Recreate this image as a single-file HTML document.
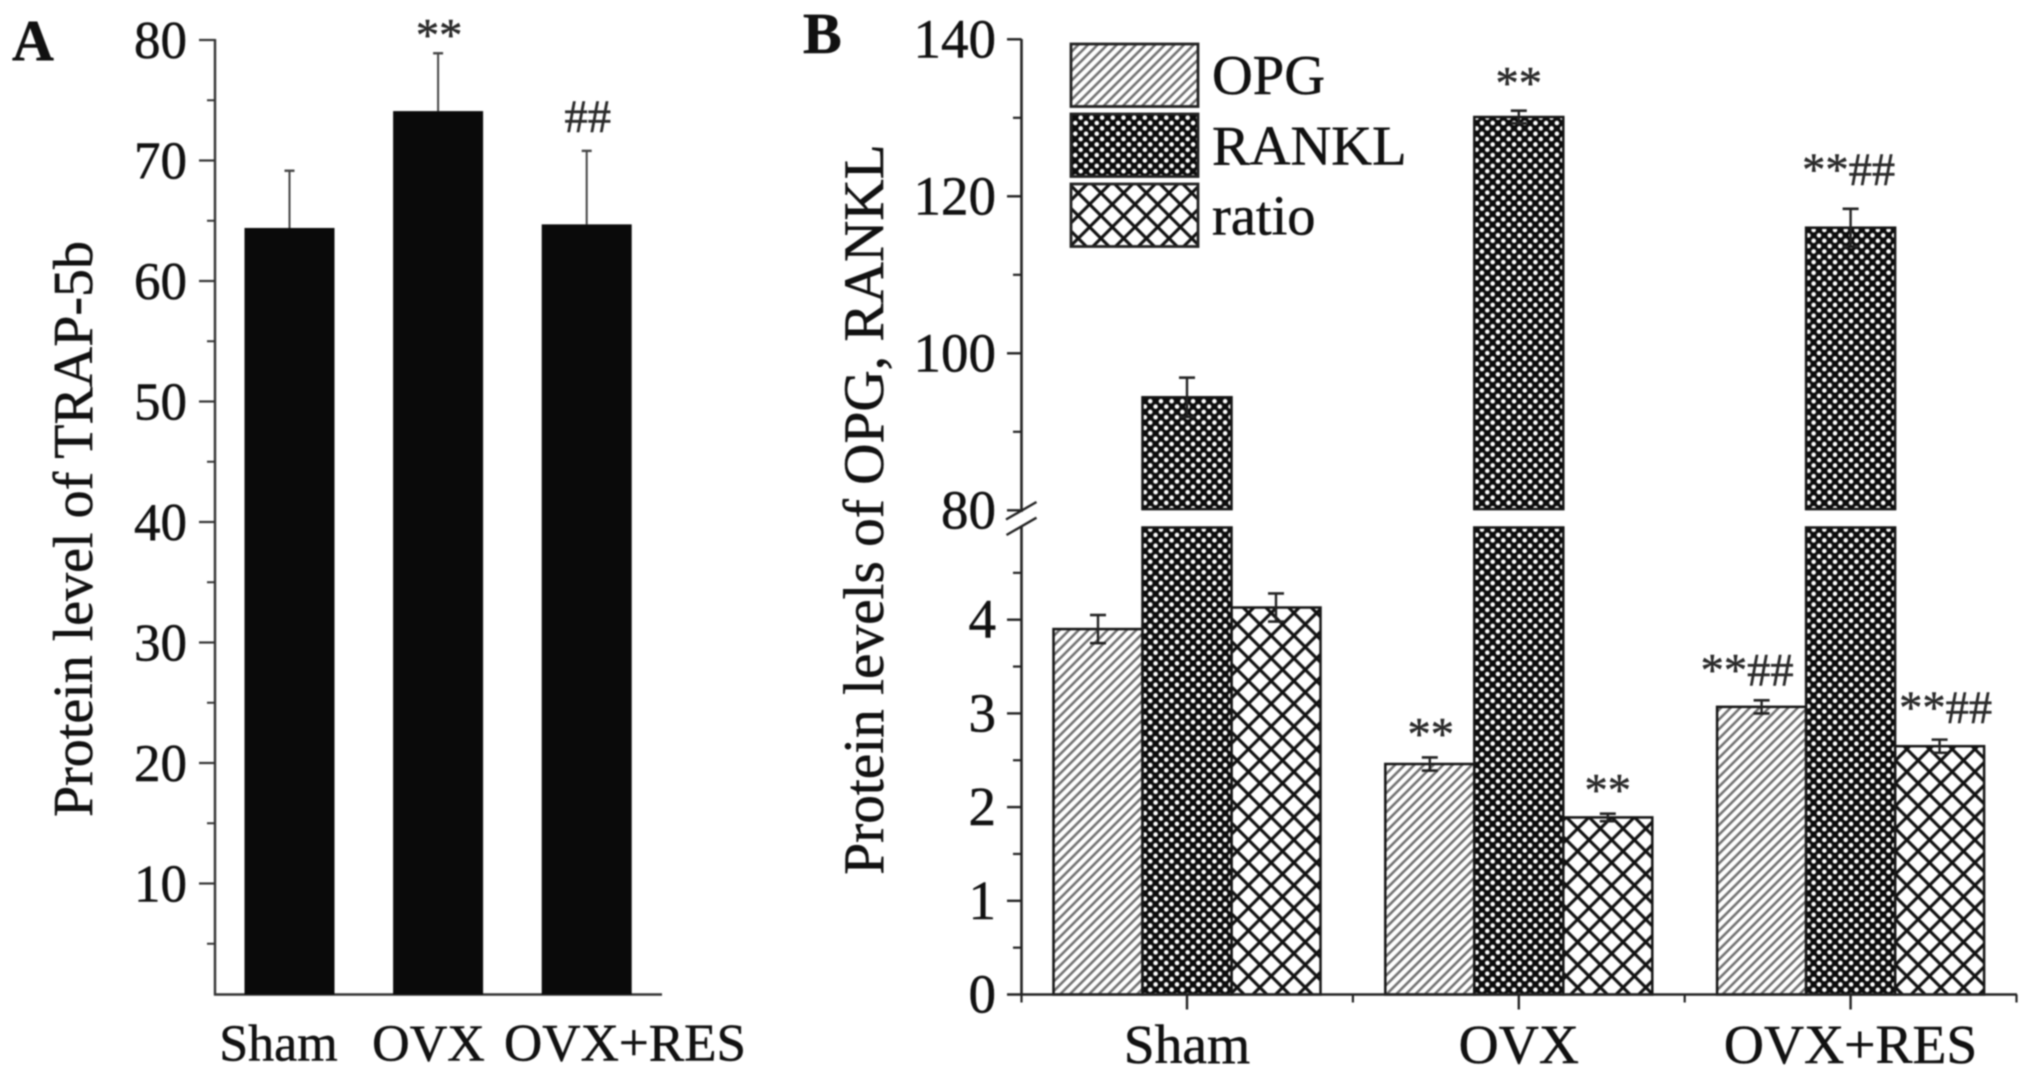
<!DOCTYPE html>
<html lang="en">
<head>
<meta charset="utf-8">
<title>Protein levels of TRAP-5b, OPG and RANKL</title>
<style>
html,body{margin:0;padding:0;background:#fff;}
body{width:2031px;height:1083px;overflow:hidden;}
svg{display:block;filter:blur(0.7px);}
text{font-family:"Liberation Serif",serif;fill:#111;stroke:#111;stroke-width:0.5px;}
</style>
</head>
<body>
<svg id="figure" xmlns="http://www.w3.org/2000/svg" width="2031" height="1083" viewBox="0 0 2031 1083">
  <defs>
    <pattern id="hatch-opg" patternUnits="userSpaceOnUse" width="9.6" height="9.6">
      <rect width="9.6" height="9.6" fill="#fff"/>
      <path d="M-2.4,2.4 L2.4,-2.4 M0,9.6 L9.6,0 M7.2,12 L12,7.2" stroke="#707070" stroke-width="2.5" fill="none"/>
    </pattern>
    <pattern id="hatch-rankl" patternUnits="userSpaceOnUse" width="10.7" height="10.7">
      <rect width="10.7" height="10.7" fill="#0c0c0c"/>
      <circle cx="0" cy="0" r="2.3" fill="#fff"/>
      <circle cx="10.7" cy="0" r="2.3" fill="#fff"/>
      <circle cx="0" cy="10.7" r="2.3" fill="#fff"/>
      <circle cx="10.7" cy="10.7" r="2.3" fill="#fff"/>
      <circle cx="5.35" cy="5.35" r="2.3" fill="#fff"/>
    </pattern>
    <pattern id="hatch-ratio" patternUnits="userSpaceOnUse" width="22.7" height="22.7">
      <rect width="22.7" height="22.7" fill="#fff"/>
      <path d="M0,0 L22.7,22.7 M0,22.7 L22.7,0" stroke="#111" stroke-width="3.1" fill="none"/>
      <path d="M-2,2 L2,-2 M20.7,24.7 L24.7,20.7 M-2,20.7 L2,24.7 M20.7,-2 L24.7,2" stroke="#111" stroke-width="3.1" fill="none"/>
    </pattern>
  </defs>
  <g id="panel-a"></g>
  <g id="panel-b"></g>
</svg>
<script>
const categories = ['Sham', 'OVX', 'OVX+RES'];

const trapValues = [64.4, 74.1, 64.7];
const trapErrors = [4.75, 4.8, 6.1];
const trapTicks = [10, 20, 30, 40, 50, 60, 70, 80];
const trapMinorTicks = [5, 15, 25, 35, 45, 55, 65, 75];

const opgValues = [3.90, 2.46, 3.07];
const opgErrors = [0.15, 0.07, 0.07];
const ranklValues = [94.4, 130.1, 116.0];
const ranklErrors = [2.5, 0.8, 2.4];
const ratioValues = [4.13, 1.89, 2.65];
const ratioErrors = [0.15, 0.04, 0.07];
const lowerTicks = [0, 1, 2, 3, 4];
const lowerMinorTicks = [0.5, 1.5, 2.5, 3.5, 4.5];
const upperTicks = [80, 100, 120, 140];
const upperMinorTicks = [90, 110, 130];
const legendLabels = ['OPG', 'RANKL', 'ratio'];

const SVGNS = 'http://www.w3.org/2000/svg';
const BASE_Y = 994.5;

function make(parent, tag, name, attrs, content) {
  const el = document.createElementNS(SVGNS, tag);
  
  
  for (const key in attrs) {
    el.setAttribute(key, attrs[key]);
  }
  if (content !== undefined) {
    el.textContent = content;
  }
  parent.appendChild(el);
  return el;
}

function line(parent, name, x1, y1, x2, y2, stroke, width) {
  return make(parent, 'line', name, {x1: x1, y1: y1, x2: x2, y2: y2, stroke: stroke, 'stroke-width': width});
}

function label(parent, name, x, y, size, anchor, content, extra) {
  const attrs = Object.assign({x: x, y: y, 'font-size': size, 'text-anchor': anchor}, extra || {});
  return make(parent, 'text', name, attrs, content);
}

/* ---------- Panel A ---------- */
const panelA = document.getElementById('panel-a');
function yA(v) { return 40 + (80 - v) * 12.05; }
function xA(i) { return 289.5 + i * 148.6; }
const AXIS_A = '#333';

label(panelA, 'panel-a-label', 12, 60, 58, 'start', 'A', {'font-weight': 'bold'});
label(panelA, 'y-axis-title-trap', 0, 0, 56, 'middle', 'Protein level of TRAP-5b',
  {transform: 'translate(92 529) rotate(-90)'});

line(panelA, 'y-axis-line', 215, 39, 215, BASE_Y + 1, AXIS_A, 2.4);
line(panelA, 'x-axis-line', 214, BASE_Y, 662, BASE_Y, AXIS_A, 2.4);

trapTicks.forEach(function (t) {
  line(panelA, 'y-tick-' + t, 199, yA(t), 215, yA(t), AXIS_A, 2.2);
  label(panelA, 'y-tick-label-' + t, 187, yA(t) + 18, 53, 'end', String(t));
});
trapMinorTicks.forEach(function (t) {
  line(panelA, 'y-minor-tick-' + t, 207, yA(t), 215, yA(t), AXIS_A, 2);
});

trapValues.forEach(function (v, i) {
  const top = yA(v);
  const errTop = yA(v + trapErrors[i]);
  line(panelA, 'error-bar-' + categories[i], xA(i), errTop, xA(i), top, '#444', 2);
  line(panelA, 'error-cap-' + categories[i], xA(i) - 5, errTop, xA(i) + 5, errTop, '#444', 2.4);
  make(panelA, 'rect', 'bar-' + categories[i], {x: xA(i) - 45, y: top, width: 90, height: BASE_Y - top, fill: '#0a0a0a'});
});

function noteA(i, text, lift) {
  label(panelA, 'significance-' + categories[i], xA(i) + 1, yA(trapValues[i] + trapErrors[i]) - lift, 46.5, 'middle', text, {style: 'fill:#2a2a2a;stroke:#2a2a2a'});
}
noteA(1, '**', 3);
noteA(2, '##', 19);

label(panelA, 'x-label-sham', 278.5, 1060.5, 52, 'middle', categories[0]);
label(panelA, 'x-label-ovx', 428.5, 1060.5, 52, 'middle', categories[1]);
label(panelA, 'x-label-ovx-res', 625, 1060.5, 53, 'middle', categories[2]);

/* ---------- Panel B ---------- */
const panelB = document.getElementById('panel-b');
function yB(v) {
  return v <= 5 ? BASE_Y - v * 93.7 : 510.3 - (v - 80) * 7.85;
}
function groupCenter(c) { return 1187 + c * 331.8; }
function barCenter(c, s) { return groupCenter(c) + (s - 1) * 89; }
const AXIS_B = '#222';
const BAR_W = 89;

label(panelB, 'panel-b-label', 803, 53, 58, 'start', 'B', {'font-weight': 'bold'});
label(panelB, 'y-axis-title-opg-rankl', 0, 0, 57.3, 'middle', 'Protein levels of OPG, RANKL',
  {transform: 'translate(883 509.5) rotate(-90)'});

function barRect(parent, name, x, top, bottom, fill) {
  make(parent, 'rect', name, {x: x - BAR_W / 2, y: top, width: BAR_W, height: bottom - top, fill: fill, stroke: '#151515', 'stroke-width': 2.5});
}

function errorBar(parent, name, x, value, err) {
  const hi = yB(value + err);
  const lo = yB(value - err);
  line(parent, name + '-stem', x, hi, x, lo, '#222', 2.4);
  line(parent, name + '-cap-top', x - 8, hi, x + 8, hi, '#222', 2.6);
  line(parent, name + '-cap-bottom', x - 8, lo, x + 8, lo, '#222', 2.6);
}

categories.forEach(function (cat, c) {
  barRect(panelB, 'bar-opg-' + cat, barCenter(c, 0), yB(opgValues[c]), BASE_Y, 'url(#hatch-opg)');
  barRect(panelB, 'bar-ratio-' + cat, barCenter(c, 2), yB(ratioValues[c]), BASE_Y, 'url(#hatch-ratio)');
  barRect(panelB, 'bar-rankl-lower-' + cat, barCenter(c, 1), yB(5) + 1.5, BASE_Y, 'url(#hatch-rankl)');
  barRect(panelB, 'bar-rankl-upper-' + cat, barCenter(c, 1), yB(ranklValues[c]), yB(80) - 1.2, 'url(#hatch-rankl)');
  errorBar(panelB, 'error-opg-' + cat, barCenter(c, 0), opgValues[c], opgErrors[c]);
  errorBar(panelB, 'error-ratio-' + cat, barCenter(c, 2), ratioValues[c], ratioErrors[c]);
  errorBar(panelB, 'error-rankl-' + cat, barCenter(c, 1), ranklValues[c], ranklErrors[c]);
});

/* axes */
line(panelB, 'y-axis-upper', 1021.5, 39, 1021.5, 512, AXIS_B, 2.6);
line(panelB, 'y-axis-lower', 1021.5, 527, 1021.5, BASE_Y + 1, AXIS_B, 2.6);
line(panelB, 'x-axis-line', 1007, BASE_Y, 2017, BASE_Y, AXIS_B, 2.6);
line(panelB, 'axis-break-mark-top', 1006, 519.5, 1036.5, 502, AXIS_B, 2.4);
line(panelB, 'axis-break-mark-bottom', 1006.5, 535, 1036.5, 517.7, AXIS_B, 2.4);

upperTicks.forEach(function (t) {
  line(panelB, 'y-tick-' + t, 1007, yB(t), 1021.5, yB(t), AXIS_B, 2.4);
  label(panelB, 'y-tick-label-' + t, 996, yB(t) + 18, 55, 'end', String(t));
});
upperMinorTicks.forEach(function (t) {
  line(panelB, 'y-minor-tick-' + t, 1013, yB(t), 1021.5, yB(t), AXIS_B, 2.2);
});
lowerTicks.forEach(function (t) {
  if (t > 0) {
    line(panelB, 'y-tick-' + t, 1007, yB(t), 1021.5, yB(t), AXIS_B, 2.4);
  }
  label(panelB, 'y-tick-label-' + t, 996, yB(t) + 18, 55, 'end', String(t));
});
lowerMinorTicks.forEach(function (t) {
  line(panelB, 'y-minor-tick-' + t, 1013, yB(t), 1021.5, yB(t), AXIS_B, 2.2);
});

categories.forEach(function (cat, c) {
  line(panelB, 'x-tick-' + cat, groupCenter(c), BASE_Y, groupCenter(c), BASE_Y + 15, AXIS_B, 2.4);
  line(panelB, 'x-minor-tick-' + cat, groupCenter(c) + 165.9, BASE_Y, groupCenter(c) + 165.9, BASE_Y + 8, AXIS_B, 2.2);
  label(panelB, 'x-label-' + cat, groupCenter(c), 1063, 55.5, 'middle', cat);
});
line(panelB, 'x-minor-tick-start', 1021.5, BASE_Y, 1021.5, BASE_Y + 8, AXIS_B, 2.2);

/* significance marks */
function noteB(name, c, s, value, err, text, lift, shift) {
  label(panelB, 'significance-' + name, barCenter(c, s) + shift, yB(value + err) - lift, 46.5, 'middle', text, {style: 'fill:#2a2a2a;stroke:#2a2a2a'});
}
noteB('rankl-ovx', 1, 1, ranklValues[1], ranklErrors[1], '**', 12, 0);
noteB('rankl-ovx-res', 2, 1, ranklValues[2], ranklErrors[2], '**##', 24, -2);
noteB('opg-ovx', 1, 0, opgValues[1], opgErrors[1], '**', 8, 1);
noteB('ratio-ovx', 1, 2, ratioValues[1], ratioErrors[1], '**', 8, 0);
noteB('opg-ovx-res', 2, 0, opgValues[2], opgErrors[2], '**##', 15, -14.5);
noteB('ratio-ovx-res', 2, 2, ratioValues[2], ratioErrors[2], '**##', 16.5, 6);

/* legend */
const legend = make(panelB, 'g', 'legend', {});
const legendFills = ['url(#hatch-opg)', 'url(#hatch-rankl)', 'url(#hatch-ratio)'];
legendLabels.forEach(function (name, i) {
  make(legend, 'rect', 'legend-swatch-' + name, {x: 1071, y: 44 + i * 70, width: 127, height: 62.5, fill: legendFills[i], stroke: '#222', 'stroke-width': 2.8});
  label(legend, 'legend-label-' + name, 1212, 94 + i * 70.3, 56.5, 'start', name);
});
</script>
</body>
</html>
